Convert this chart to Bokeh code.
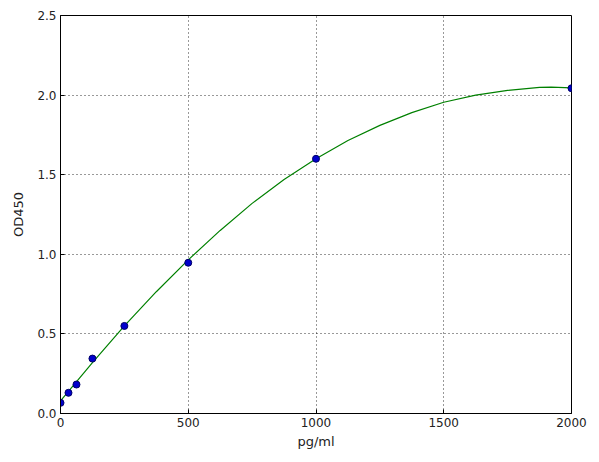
from bokeh.plotting import figure
from bokeh.models import Range1d, FixedTicker
from bokeh.embed import file_html
from bokeh.resources import INLINE

conc = [0, 31.25, 62.5, 125, 250, 500, 1000, 2000]
od = [0.067, 0.13, 0.182, 0.345, 0.55, 0.947, 1.60, 2.043]

curve_x = [0, 125, 250, 375, 500, 625, 750, 875, 1000, 1125, 1250, 1375, 1500, 1625, 1750, 1875, 1920, 2000]
curve_y = [0.08, 0.32, 0.55, 0.765, 0.965, 1.15, 1.32, 1.47, 1.60, 1.715, 1.81, 1.89, 1.955, 2.0, 2.03, 2.048, 2.05, 2.045]

x_ticks = [0, 500, 1000, 1500, 2000]
y_ticks = [0.0, 0.5, 1.0, 1.5, 2.0, 2.5]

W, H = 591, 454
p = figure(width=W, height=H, output_backend="svg", toolbar_location=None,
           x_range=Range1d(0, 2000), y_range=Range1d(0, 2.5),
           min_border_left=60, min_border_right=20, min_border_top=15, min_border_bottom=41)
p.background_fill_color = "white"
p.border_fill_color = "white"
p.outline_line_color = "black"
p.outline_line_width = 1

p.line(curve_x, curve_y, line_color="#008000", line_width=1.2)
p.scatter(conc, od, size=7, fill_color="#0000cc", line_color="#000066", line_width=1)

for ax in (p.xaxis[0], p.yaxis[0]):
    ax.major_tick_out = 0
    ax.major_tick_in = 4
    ax.minor_tick_out = 0
    ax.minor_tick_in = 0
    ax.axis_line_color = "black"
    ax.major_label_text_font = "DejaVu Sans"
    ax.major_label_text_font_size = "12px"
    ax.major_label_text_color = "#222222"
    ax.axis_label_text_font = "DejaVu Sans"
    ax.axis_label_text_font_size = "13px"
    ax.axis_label_text_font_style = "normal"
    ax.axis_label_text_color = "#222222"
    ax.major_label_standoff = 4

p.xaxis[0].ticker = FixedTicker(ticks=x_ticks)
p.yaxis[0].ticker = FixedTicker(ticks=y_ticks)
p.yaxis[0].major_label_overrides = {t: f"{t:.1f}" for t in y_ticks}
p.xaxis[0].axis_label = "pg/ml"
p.yaxis[0].axis_label = "OD450"
p.xaxis[0].axis_label_standoff = 4
p.yaxis[0].axis_label_standoff = 8

for g in (p.xgrid[0], p.ygrid[0]):
    g.grid_line_color = "black"
    g.grid_line_dash = "1 3"
    g.grid_line_alpha = 0.8
    g.grid_line_width = 1

open("out.html", "w").write(file_html(p, INLINE))
